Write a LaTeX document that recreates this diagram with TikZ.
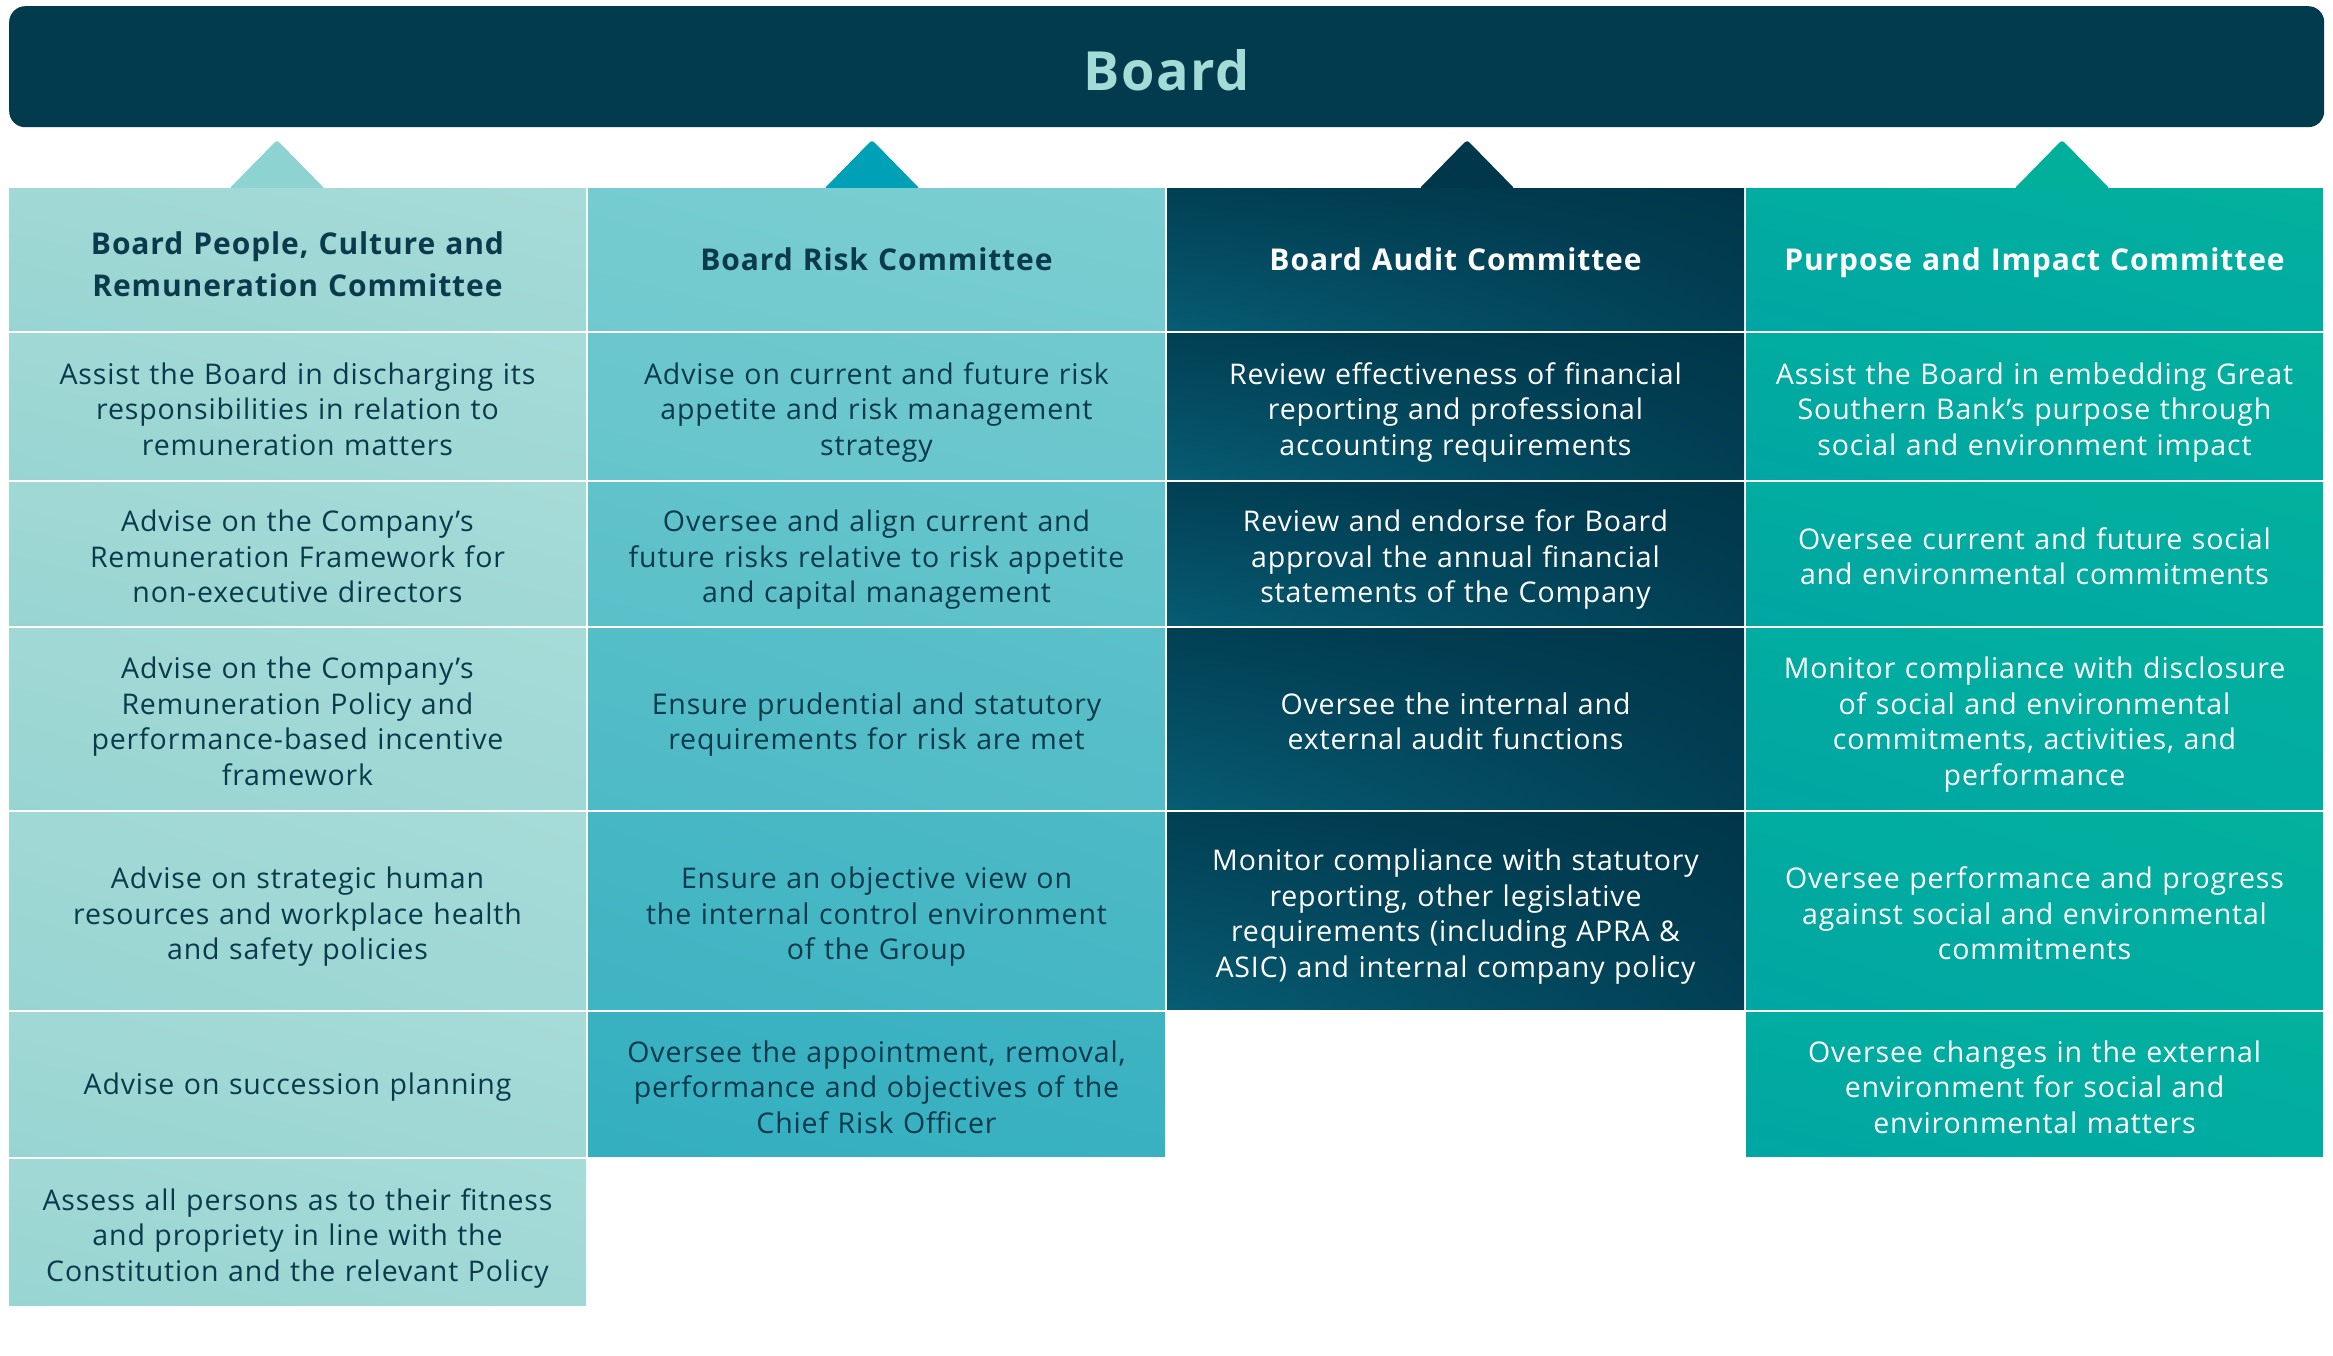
\documentclass[tikz,border=0pt]{standalone}
\usepackage{fontspec}
\setmainfont{Open Sans}[LetterSpace=3]
\usetikzlibrary{shadings}
\definecolor{navy}{HTML}{023A4E}
\definecolor{boardtxt}{HTML}{A3DCD7}
\definecolor{txtdark}{HTML}{0B3A4D}
\definecolor{cA}{HTML}{A6DBD8}
\definecolor{cAm}{HTML}{A0D8D5}
\definecolor{cAd}{HTML}{98D5D2}
\definecolor{cBl}{HTML}{7BCED1}
\definecolor{cBd}{HTML}{34AFC0}
\definecolor{cCl}{HTML}{00364A}
\definecolor{cCd}{HTML}{075C73}
\definecolor{cDl}{HTML}{03B19E}
\definecolor{cDm}{HTML}{01ACA0}
\definecolor{cDd}{HTML}{00A6A3}
\definecolor{triA}{HTML}{8DD3D1}
\definecolor{triB}{HTML}{00A0B7}
\definecolor{triC}{HTML}{00374B}
\definecolor{triD}{HTML}{00B09B}
\begin{document}
\begin{tikzpicture}[x=1pt,y=-1pt,
  cell/.style={rectangle, inner sep=0pt, outer sep=0pt, anchor=north west,
    minimum width=577pt, align=center, text width=570pt,
    font=\fontsize{28.5}{35.5}\selectfont},
  head/.style={font=\fontsize{30}{41.5}\selectfont\bfseries},
  n1/.style={text depth=-5.5pt},
  n2/.style={text depth=30pt},
  n3/.style={text depth=65.5pt},
  n4/.style={text depth=101pt},
  hd1/.style={text depth=-9pt},
  hd2/.style={text depth=32.5pt},
  colA/.style={cell, text=txtdark, upper right=cA, lower left=cAd, upper left=cAm, lower right=cAm},
  colB/.style n args={3}{cell, text=txtdark, upper right=cBl!#1!cBd, lower left=cBl!#3!cBd,
    upper left=cBl!#2!cBd, lower right=cBl!#2!cBd},
  colC/.style={cell, text=white, upper right=cCl, lower left=cCd,
    upper left=cCl!75!cCd, lower right=cCl!75!cCd},
  colD/.style={cell, text=white, upper right=cDl, lower left=cDd, upper left=cDm, lower right=cDm},
  hH/.style={minimum height=141pt},
  h1/.style={minimum height=146pt},
  h2/.style={minimum height=143pt},
  h3/.style={minimum height=181pt},
  h4/.style={minimum height=197pt},
  h5/.style={minimum height=144pt},
  h6/.style={minimum height=146pt},
  tri/.style={rounded corners=3pt}
]
\fill[white] (0,0) rectangle (2333,1356);
\useasboundingbox (0,0) rectangle (2333,1356);

% Board bar
\node[rectangle, fill=navy, rounded corners=16pt, minimum width=2315pt, minimum height=121pt,
  inner sep=0pt, anchor=north west] (board) at (9,6) {};
\node[text=boardtxt, inner sep=0pt, font=\fontsize{54}{60}\selectfont\bfseries]
  (boardlbl) at ([yshift=-4pt]board.center) {Board};

% pointers
\fill[triA, tri] (229,189) -- (277,140) -- (325,189) -- cycle;
\fill[triB, tri] (824,189) -- (872,140) -- (920,189) -- cycle;
\fill[triC, tri] (1419,189) -- (1467,140) -- (1515,189) -- cycle;
\fill[triD, tri] (2014,189) -- (2062,140) -- (2110,189) -- cycle;

% Column 1
\node[colA, hH, head, hd2] (a0) at (9,189) {Board People, Culture and\\Remuneration Committee};
\node[colA, h1, n3] (a1) at (9,333) {Assist the Board in discharging its\\responsibilities in relation to\\remuneration matters};
\node[colA, h2, n3] (a2) at (9,482) {Advise on the Company’s\\Remuneration Framework for\\non-executive directors};
\node[colA, h3, n4] (a3) at (9,628) {Advise on the Company’s\\Remuneration Policy and\\performance-based incentive\\framework};
\node[colA, h4, n3] (a4) at (9,812) {Advise on strategic human\\resources and workplace health\\and safety policies};
\node[colA, h5, n1] (a5) at (9,1012) {Advise on succession planning};
\node[colA, h6, n3] (a6) at (9,1159) {Assess all persons as to their fitness\\and propriety in line with the\\Constitution and the relevant Policy};

% Column 2
\node[colB={100}{92}{85}, hH, head, hd1] (b0) at (588,189) {Board Risk Committee};
\node[colB={85}{77}{70}, h1, n3] (b1) at (588,333) {Advise on current and future risk\\appetite and risk management\\strategy};
\node[colB={70}{62}{55}, h2, n3] (b2) at (588,482) {Oversee and align current and\\future risks relative to risk appetite\\and capital management};
\node[colB={55}{45}{36}, h3, n2] (b3) at (588,628) {Ensure prudential and statutory\\requirements for risk are met};
\node[colB={36}{25}{15}, h4, n3] (b4) at (588,812) {Ensure an objective view on\\the internal control environment\\of the Group};
\node[colB={15}{7}{0}, h5, n3] (b5) at (588,1012) {Oversee the appointment, removal,\\performance and objectives of the\\Chief Risk Officer};

% Column 3
\node[colC, hH, head, hd1] (c0) at (1167,189) {Board Audit Committee};
\node[colC, h1, n3] (c1) at (1167,333) {Review effectiveness of financial\\reporting and professional\\accounting requirements};
\node[colC, h2, n3] (c2) at (1167,482) {Review and endorse for Board\\approval the annual financial\\statements of the Company};
\node[colC, h3, n2] (c3) at (1167,628) {Oversee the internal and\\external audit functions};
\node[colC, h4, n4] (c4) at (1167,812) {Monitor compliance with statutory\\reporting, other legislative\\requirements (including APRA \&\\ASIC) and internal company policy};

% Column 4
\node[colD, hH, head, hd1] (d0) at (1746,189) {Purpose and Impact Committee};
\node[colD, h1, n3] (d1) at (1746,333) {Assist the Board in embedding Great\\Southern Bank’s purpose through\\social and environment impact};
\node[colD, h2, n2] (d2) at (1746,482) {Oversee current and future social\\and environmental commitments};
\node[colD, h3, n4] (d3) at (1746,628) {Monitor compliance with disclosure\\of social and environmental\\commitments, activities, and\\performance};
\node[colD, h4, n3] (d4) at (1746,812) {Oversee performance and progress\\against social and environmental\\commitments};
\node[colD, h5, n3] (d5) at (1746,1012) {Oversee changes in the external\\environment for social and\\environmental matters};
\end{tikzpicture}
\end{document}
